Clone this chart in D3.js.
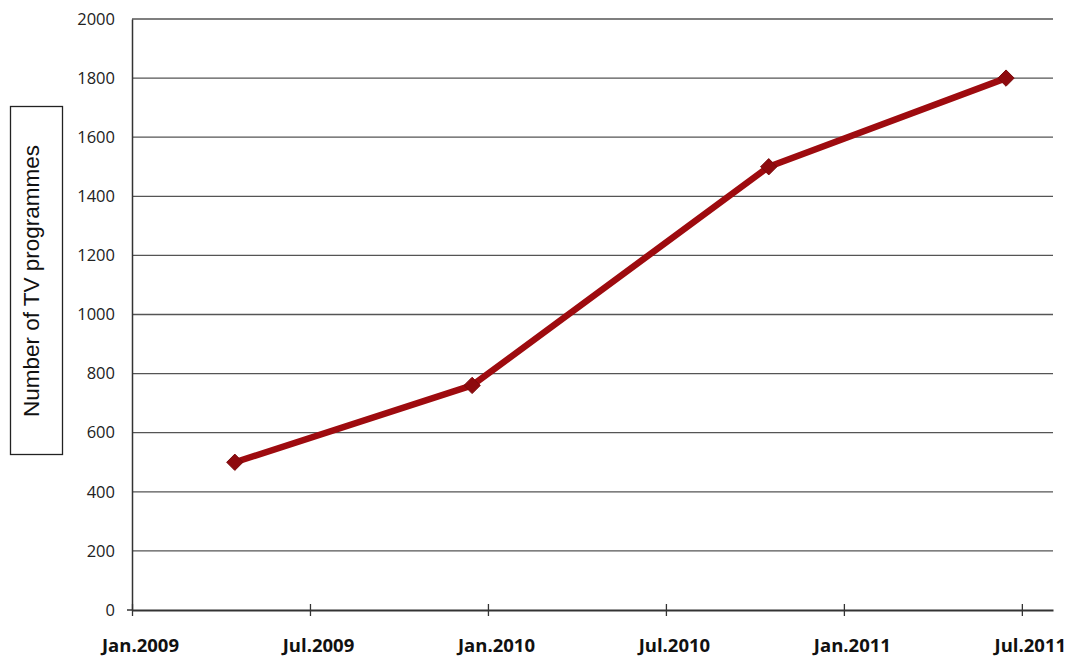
<!DOCTYPE html>
<html><head><meta charset="utf-8">
<script src="https://cdn.jsdelivr.net/npm/d3@7"></script>
<style>body{margin:0;background:#fff}</style>
</head><body>
<svg id="c" width="1077" height="660"></svg>
<script>
const dates = ["2009-04-15", "2009-12-15", "2010-10-15", "2011-06-15"];
const values = [500, 760, 1500, 1800];
const yTicks = [0, 200, 400, 600, 800, 1000, 1200, 1400, 1600, 1800, 2000];
const xTickDates = ["2009-01-01", "2009-07-01", "2010-01-01", "2010-07-01", "2011-01-01", "2011-07-01"];
const xTickLabels = ["Jan.2009", "Jul.2009", "Jan.2010", "Jul.2010", "Jan.2011", "Jul.2011"];
const yLabel = "Number of TV programmes";

const parse = d3.utcParse("%Y-%m-%d");
const svg = d3.select("#c");
const L = 132, R = 1053, T = 19, B = 610;

// month-based linear scale so half-years are equal widths
const monthIdx = d => { const t = parse(d); return (t.getUTCFullYear() - 2009) * 12 + t.getUTCMonth() + (t.getUTCDate() - 1) / 30; };
const x = d3.scaleLinear().domain([0, 31.05]).range([L, R]);
const y = d3.scaleLinear().domain([0, 2000]).range([B, T]);

// gridlines
svg.append("g").selectAll("line").data(yTicks.filter(v => v > 0)).join("line")
  .attr("x1", L).attr("x2", R).attr("y1", d => y(d)).attr("y2", d => y(d))
  .attr("stroke", "#555").attr("stroke-width", 1.3);

// y axis
const yAxis = d3.axisLeft(y).tickValues(yTicks).tickSize(0).tickPadding(17).tickFormat(d3.format("d"));
const gy = svg.append("g").attr("transform", `translate(${L},0)`).call(yAxis);
gy.select(".domain").attr("stroke", "#333").attr("stroke-width", 1.5);
gy.selectAll("text").attr("font-family", "'Open Sans', Lato, sans-serif").attr("font-size", 16.5).attr("fill", "#222");

// x axis
const xAxis = d3.axisBottom(x).tickValues(xTickDates.map(monthIdx)).tickSize(0)
  .tickFormat((d, i) => xTickLabels[i]);
const gx = svg.append("g").attr("transform", `translate(0,${B})`).call(xAxis);
gx.select(".domain").attr("stroke", "#333").attr("stroke-width", 1.8);
gx.selectAll(".tick line").attr("y1", -6).attr("y2", 6).attr("stroke", "#333").attr("stroke-width", 1.3).attr("opacity", 1);
gx.selectAll("text").attr("y", 0).attr("dy", 0).attr("transform", "translate(8,42)").attr("font-family", "'Open Sans', Lato, sans-serif")
  .attr("font-weight", "bold").attr("font-size", 18.5).attr("fill", "#111");
// small left tick at 0
svg.append("line").attr("x1", L - 5).attr("x2", L).attr("y1", B).attr("y2", B).attr("stroke", "#333").attr("stroke-width", 1.5);

// line
const pts = dates.map((d, i) => [x(monthIdx(d)), y(values[i])]);
svg.append("path").datum(pts).attr("d", d3.line())
  .attr("fill", "none").attr("stroke", "#9E0B0F").attr("stroke-width", 6.5).attr("stroke-linejoin", "round");
svg.append("g").selectAll("path").data(pts).join("path")
  .attr("transform", d => `translate(${d[0]},${d[1]})`)
  .attr("d", d3.symbol(d3.symbolDiamond2, 170))
  .attr("fill", "#8E0A0E").attr("stroke", "#7a0a0c").attr("stroke-width", 1);

// y label in box
svg.append("rect").attr("x", 10.5).attr("y", 106.5).attr("width", 52).attr("height", 348)
  .attr("fill", "none").attr("stroke", "#222").attr("stroke-width", 1.3);
svg.append("text").attr("transform", "translate(39,281) rotate(-90)").attr("text-anchor", "middle")
  .attr("font-family", "Arial, 'Liberation Sans', sans-serif").attr("font-size", 22.5).attr("fill", "#111").text(yLabel);
</script>
</body></html>
